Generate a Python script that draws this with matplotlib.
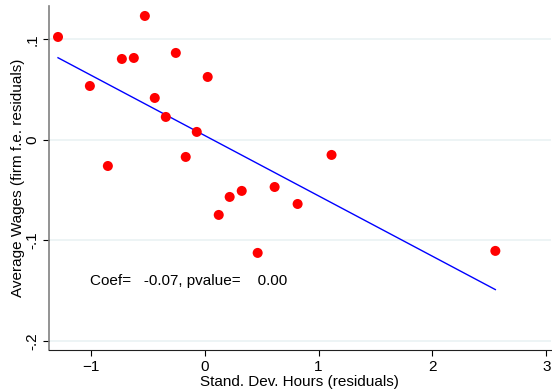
import numpy as np
import matplotlib
matplotlib.use("Agg")
from matplotlib import pyplot as plt

# binned residuals
sd_hours = [-1.289, -1.009, -0.851, -0.728, -0.623, -0.526, -0.439, -0.342, -0.254, -0.167,
            -0.070, 0.026, 0.123, 0.219, 0.325, 0.465, 0.614, 0.816, 1.114, 2.553]
avg_wages = [0.1025, 0.0537, -0.0259, 0.0806, 0.0816, 0.1234, 0.0418, 0.0229, 0.0866, -0.0169,
             0.0080, 0.0627, -0.0746, -0.0567, -0.0507, -0.1124, -0.0468, -0.0637, -0.0149, -0.1104]
note = "Coef=   -0.07, pvalue=    0.00"

xticks = [-1, 0, 1, 2, 3]
yticks = [-0.2, -0.1, 0, 0.1]
ytick_labels = ["-.2", "-.1", "0", ".1"]

plt.rcParams['font.family'] = ['Liberation Sans', 'DejaVu Sans']

fig = plt.figure(figsize=(5.52, 3.9), dpi=100)
ax = fig.add_axes([0.0888, 0.1026, 0.909, 0.882])

x = np.array(sd_hours)
y = np.array(avg_wages)
slope, intercept = np.polyfit(x, y, 1)
xs = np.array([x.min(), x.max()])

for t in yticks:
    ax.axhline(t, color='#eaf2f3', lw=1.2, zorder=0)

ax.plot(xs, intercept + slope * xs, color='#0000ff', lw=1, zorder=2)
ax.scatter(x, y, s=52, color='#ff0000', edgecolors='none', zorder=3)

ax.text(-1.01, -0.140, note, fontsize=11, va='center', ha='left')

ax.set_xlim(-1.368, 3.04)
ax.set_ylim(-0.209, 0.1333)
ax.set_xticks(xticks)
ax.set_yticks(yticks)
ax.set_yticklabels(ytick_labels, rotation=90, va='center')
ax.tick_params(labelsize=11, length=4, width=0.8, pad=3)
ax.set_xlabel("Stand. Dev. Hours (residuals)", fontsize=11, labelpad=1)
ax.set_ylabel("Average Wages (firm f.e. residuals)", fontsize=11, labelpad=0)

ax.spines['top'].set_visible(False)
ax.spines['right'].set_visible(False)
ax.spines['left'].set_color('#808080')
ax.spines['left'].set_linewidth(1.2)
ax.spines['bottom'].set_color('#202020')

fig.savefig("out.png", dpi=100)
